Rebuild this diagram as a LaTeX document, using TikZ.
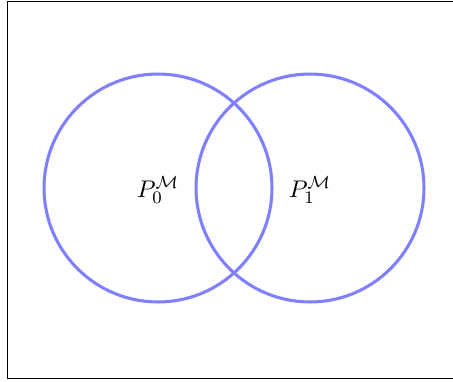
\documentclass[tikz,border=0pt]{standalone}
\begin{document}
\begin{tikzpicture}[x=0.4545pt,y=-0.4545pt,
  setcirc/.style={draw=blue!50,line width=1.4pt},
  lbl/.style={inner sep=0pt,font=\fontsize{11}{13}\selectfont}]
\useasboundingbox (0,0) rectangle (453,382);
\draw[line width=0.45pt] (460,1) -- (7,1) -- (7,378) -- (460,378);
\node[setcirc,circle,minimum size=103.6pt,inner sep=0pt] (c0) at (158,188) {};
\node[setcirc,circle,minimum size=103.6pt,inner sep=0pt] (c1) at (310,188) {};
\node[lbl] (p0) at (158,190) {$P_0^{\mathcal{M}}$};
\node[lbl] (p1) at (310,190) {$P_1^{\mathcal{M}}$};
\end{tikzpicture}
\end{document}
